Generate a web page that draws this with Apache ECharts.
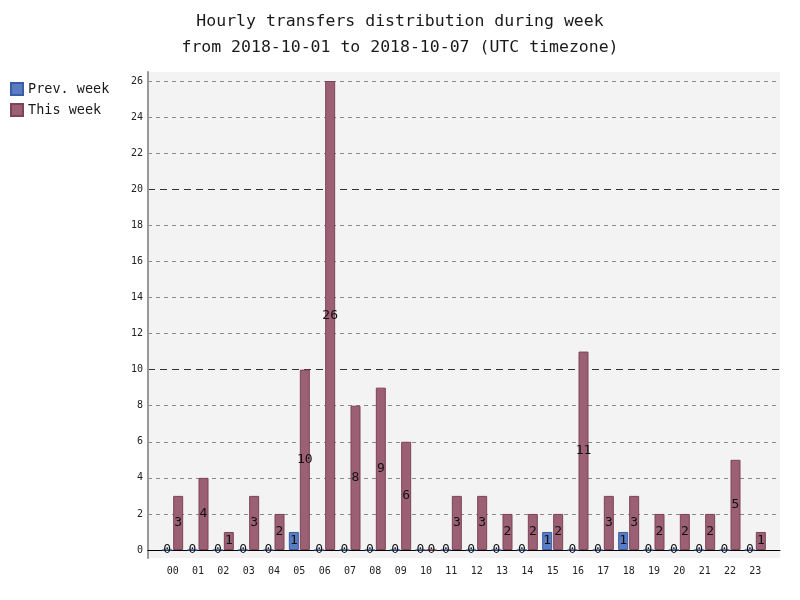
<!DOCTYPE html>
<html>
<head>
<meta charset="utf-8">
<script src="https://cdn.jsdelivr.net/npm/echarts@6/dist/echarts.min.js"></script>
<style>
    html, body { margin: 0; padding: 0; background: #fff; }
    #chart { width: 800px; height: 600px; }
</style>
</head>
<body>
<div id="chart"></div>
<script>
// hours of the day
const hours = ['00', '01', '02', '03', '04', '05', '06', '07', '08', '09', '10', '11',
    '12', '13', '14', '15', '16', '17', '18', '19', '20', '21', '22', '23'];
const prevWeek = [0, 0, 0, 0, 0, 1, 0, 0, 0, 0, 0, 0, 0, 0, 0, 1, 0, 0, 1, 0, 0, 0, 0, 0];
const thisWeek = [3, 4, 1, 3, 2, 10, 26, 8, 9, 6, 0, 3, 3, 2, 2, 2, 11, 3, 3, 2, 2, 2, 5, 1];
const yMax = 26;

const mono = 'DejaVu Sans Mono';

// minor grid lines, the ones at 10 and 20 are drawn by the major axis
let minorColors = [];
for (let v = 0; v <= yMax; v += 2) {
    minorColors.push(v % 10 == 0 ? 'rgba(0,0,0,0)' : '#8a8a8a');
}
// major lines: 0 (hidden under axis), 10, 20, max (hidden)
let majorColors = ['rgba(0,0,0,0)', '#333', '#333', 'rgba(0,0,0,0)'];

var chart = echarts.init(document.getElementById('chart'));

var valueLabel = {
    show: true,
    position: 'inside',
    fontFamily: mono,
    fontSize: 13,
    color: '#111'
};

var option = {
    animation: false,
    title: {
        text: 'Hourly transfers distribution during week\nfrom 2018-10-01 to 2018-10-07 (UTC timezone)',
        left: 'center',
        top: 4,
        textStyle: {
            fontFamily: mono,
            fontSize: 16.5,
            fontWeight: 'normal',
            color: '#1a1a1a',
            lineHeight: 26
        }
    },
    legend: {
        orient: 'vertical',
        left: 10,
        top: 82,
        padding: 0,
        itemWidth: 12,
        itemHeight: 12,
        itemGap: 7,
        icon: 'rect',
        textStyle: { fontFamily: mono, fontSize: 13.5, color: '#1a1a1a' },
        data: ['Prev. week', 'This week']
    },
    grid: [
        // background panel
        { left: 148, right: 20, top: 72, bottom: 42, show: true, backgroundColor: '#f3f3f3', borderWidth: 0 },
        // grid lines
        { left: 148, right: 20, top: 81, bottom: 50 },
        // bars
        { left: 160, right: 32, top: 81, bottom: 50 }
    ],
    xAxis: [
        { gridIndex: 0, type: 'value', show: false },
        {
            gridIndex: 1, type: 'value', min: 0, max: 1,
            axisLine: { show: true, onZero: false, lineStyle: { color: '#000', width: 1 } },
            axisTick: { show: false }, axisLabel: { show: false }, splitLine: { show: false }
        },
        {
            gridIndex: 2, type: 'category', data: hours,
            axisLine: { show: false },
            axisTick: { show: false },
            axisLabel: { fontFamily: mono, fontSize: 10, color: '#222', margin: 16 }
        }
    ],
    yAxis: [
        {
            gridIndex: 0, type: 'value', min: 0, max: 1,
            axisLine: { show: true, lineStyle: { color: '#999', width: 2 } },
            axisTick: { show: false }, axisLabel: { show: false }, splitLine: { show: false }
        },
        {
            gridIndex: 1, type: 'value', min: 0, max: yMax, interval: 2,
            axisLine: { show: false },
            axisTick: { show: false },
            axisLabel: { fontFamily: mono, fontSize: 10, color: '#222', margin: 5 },
            splitLine: { show: true, lineStyle: { color: minorColors, type: [4, 4], width: 1 } }
        },
        {
            gridIndex: 1, type: 'value', min: 0, max: yMax, interval: 10, position: 'right',
            axisLine: { show: false }, axisTick: { show: false }, axisLabel: { show: false },
            splitLine: { show: true, lineStyle: { color: majorColors, type: [7, 5], width: 1 } }
        },
        {
            gridIndex: 2, type: 'value', min: 0, max: yMax, show: false
        }
    ],
    series: [
        {
            name: 'Prev. week',
            type: 'bar',
            xAxisIndex: 2,
            yAxisIndex: 3,
            data: prevWeek,
            barWidth: 10,
            barGap: '10%',
            itemStyle: { color: '#5a7cc0', borderColor: '#3a5ca6', borderWidth: 1 },
            label: valueLabel
        },
        {
            name: 'This week',
            type: 'bar',
            xAxisIndex: 2,
            yAxisIndex: 3,
            data: thisWeek,
            barWidth: 10,
            barGap: '10%',
            itemStyle: { color: '#9b6073', borderColor: '#7e4358', borderWidth: 1 },
            label: valueLabel
        }
    ]
};

chart.setOption(option);
</script>
</body>
</html>
